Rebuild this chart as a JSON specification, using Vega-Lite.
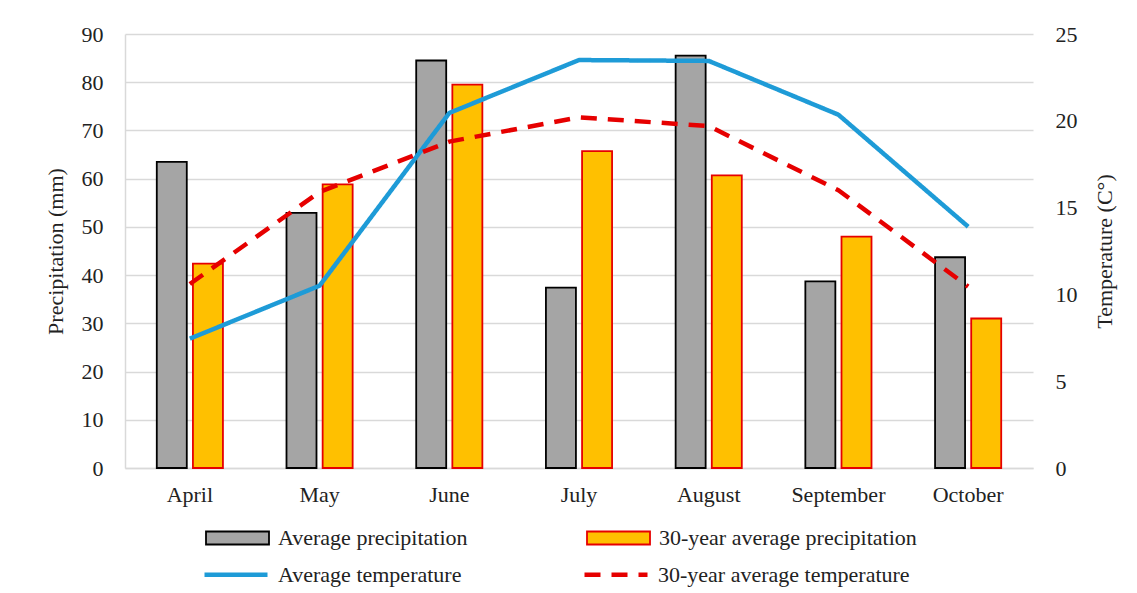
{
  "$schema": "https://vega.github.io/schema/vega-lite/v6.json",
  "width": 908,
  "height": 434,
  "autosize": {"type": "none"},
  "padding": {"left": 125, "top": 34, "right": 104, "bottom": 125},
  "background": "white",
  "config": {
    "font": "Liberation Serif",
    "view": {"stroke": null},
    "axis": {
      "labelFont": "Liberation Serif",
      "titleFont": "Liberation Serif",
      "labelFontSize": 22,
      "titleFontSize": 22,
      "labelColor": "#222222",
      "titleColor": "#222222",
      "titleFontWeight": "normal",
      "ticks": false,
      "gridColor": "#d9d9d9",
      "gridWidth": 1.5,
      "domainColor": "#d9d9d9",
      "domainWidth": 1.5
    },
    "legend": {
      "labelFont": "Liberation Serif",
      "labelFontSize": 22,
      "labelColor": "#222222",
      "labelLimit": 0,
      "symbolOpacity": 1
    }
  },
  "datasets": {
    "precip": [
      {"month": "April", "series": "Average precipitation", "mm": 63.5},
      {"month": "April", "series": "30-year average precipitation", "mm": 42.4},
      {"month": "May", "series": "Average precipitation", "mm": 52.9},
      {"month": "May", "series": "30-year average precipitation", "mm": 58.8},
      {"month": "June", "series": "Average precipitation", "mm": 84.5},
      {"month": "June", "series": "30-year average precipitation", "mm": 79.5},
      {"month": "July", "series": "Average precipitation", "mm": 37.4},
      {"month": "July", "series": "30-year average precipitation", "mm": 65.7},
      {"month": "August", "series": "Average precipitation", "mm": 85.5},
      {"month": "August", "series": "30-year average precipitation", "mm": 60.7},
      {"month": "September", "series": "Average precipitation", "mm": 38.7},
      {"month": "September", "series": "30-year average precipitation", "mm": 48.0},
      {"month": "October", "series": "Average precipitation", "mm": 43.7},
      {"month": "October", "series": "30-year average precipitation", "mm": 31.0}
    ],
    "temp": [
      {"month": "April", "tseries": "Average temperature", "t": 7.45},
      {"month": "May", "tseries": "Average temperature", "t": 10.5},
      {"month": "June", "tseries": "Average temperature", "t": 20.45},
      {"month": "July", "tseries": "Average temperature", "t": 23.5},
      {"month": "August", "tseries": "Average temperature", "t": 23.45},
      {"month": "September", "tseries": "Average temperature", "t": 20.35},
      {"month": "October", "tseries": "Average temperature", "t": 13.9},
      {"month": "April", "tseries": "30-year average temperature", "t": 10.6},
      {"month": "May", "tseries": "30-year average temperature", "t": 15.9},
      {"month": "June", "tseries": "30-year average temperature", "t": 18.8},
      {"month": "July", "tseries": "30-year average temperature", "t": 20.2},
      {"month": "August", "tseries": "30-year average temperature", "t": 19.7},
      {"month": "September", "tseries": "30-year average temperature", "t": 16.0},
      {"month": "October", "tseries": "30-year average temperature", "t": 10.45}
    ]
  },
  "encoding": {
    "x": {
      "field": "month",
      "type": "nominal",
      "sort": ["April", "May", "June", "July", "August", "September", "October"],
      "scale": {"paddingInner": 0.49, "paddingOuter": 0.245},
      "axis": {"title": null, "labelAngle": 0, "labelPadding": 16, "grid": false, "domain": true}
    }
  },
  "layer": [
    {
      "data": {"name": "precip"},
      "mark": {"type": "bar", "strokeWidth": 1.8, "strokeJoin": "miter"},
      "encoding": {
        "xOffset": {
          "field": "series",
          "type": "nominal",
          "sort": ["Average precipitation", "30-year average precipitation"],
          "scale": {"paddingInner": 0.17, "paddingOuter": 0}
        },
        "y": {
          "field": "mm",
          "type": "quantitative",
          "scale": {"domain": [0, 90], "nice": false},
          "axis": {
            "title": "Precipitation (mm)",
            "values": [0, 10, 20, 30, 40, 50, 60, 70, 80, 90],
            "labelPadding": 22,
            "titlePadding": 14,
            "grid": true,
            "domain": true
          }
        },
        "fill": {
          "field": "series",
          "type": "nominal",
          "scale": {
            "domain": ["Average precipitation", "30-year average precipitation"],
            "range": ["#a5a5a5", "#ffc000"]
          },
          "legend": {
            "title": null,
            "orient": "none",
            "legendX": 70,
            "legendY": 493,
            "direction": "horizontal",
            "columns": 2,
            "columnPadding": 108,
            "padding": 0,
            "symbolSize": 400,
            "symbolType": "M0,-0.65H6.3V0.65H0Z",
            "symbolStrokeWidth": 1.8,
            "labelOffset": 61,
            "labelBaseline": "middle"
          }
        },
        "stroke": {
          "field": "series",
          "type": "nominal",
          "scale": {
            "domain": ["Average precipitation", "30-year average precipitation"],
            "range": ["#000000", "#e60000"]
          },
          "legend": {
            "title": null,
            "orient": "none",
            "legendX": 70,
            "legendY": 493,
            "direction": "horizontal",
            "columns": 2,
            "columnPadding": 108,
            "padding": 0,
            "symbolSize": 400,
            "symbolType": "M0,-0.65H6.3V0.65H0Z",
            "symbolStrokeWidth": 1.8,
            "labelOffset": 61,
            "labelBaseline": "middle"
          }
        }
      }
    },
    {
      "data": {"name": "temp"},
      "mark": {"type": "line", "strokeWidth": 4.5, "strokeCap": "butt", "strokeJoin": "round"},
      "encoding": {
        "y": {
          "field": "t",
          "type": "quantitative",
          "scale": {"domain": [0, 25], "nice": false},
          "axis": {
            "orient": "right",
            "title": "Temperature (C°)",
            "titleAngle": 270,
            "values": [0, 5, 10, 15, 20, 25],
            "labelPadding": 22,
            "titlePadding": 39,
            "grid": false,
            "domain": false
          }
        },
        "color": {
          "field": "tseries",
          "type": "nominal",
          "scale": {
            "domain": ["Average temperature", "30-year average temperature"],
            "range": ["#1e9bd7", "#e60000"]
          },
          "legend": {
            "title": null,
            "orient": "none",
            "legendX": 67,
            "legendY": 528,
            "direction": "horizontal",
            "columns": 2,
            "columnPadding": 110,
            "padding": 0,
            "symbolSize": 400,
            "symbolType": "M0,0H6.3",
            "symbolStrokeWidth": 4.5,
            "labelOffset": 61,
            "labelBaseline": "middle"
          }
        },
        "strokeDash": {
          "field": "tseries",
          "type": "nominal",
          "scale": {
            "domain": ["Average temperature", "30-year average temperature"],
            "range": [[1, 0], [16, 11]]
          },
          "legend": {
            "title": null,
            "orient": "none",
            "legendX": 67,
            "legendY": 528,
            "direction": "horizontal",
            "columns": 2,
            "columnPadding": 110,
            "padding": 0,
            "symbolSize": 400,
            "symbolType": "M0,0H6.3",
            "symbolStrokeWidth": 4.5,
            "labelOffset": 61,
            "labelBaseline": "middle"
          }
        }
      }
    }
  ],
  "resolve": {"scale": {"y": "independent"}}
}
